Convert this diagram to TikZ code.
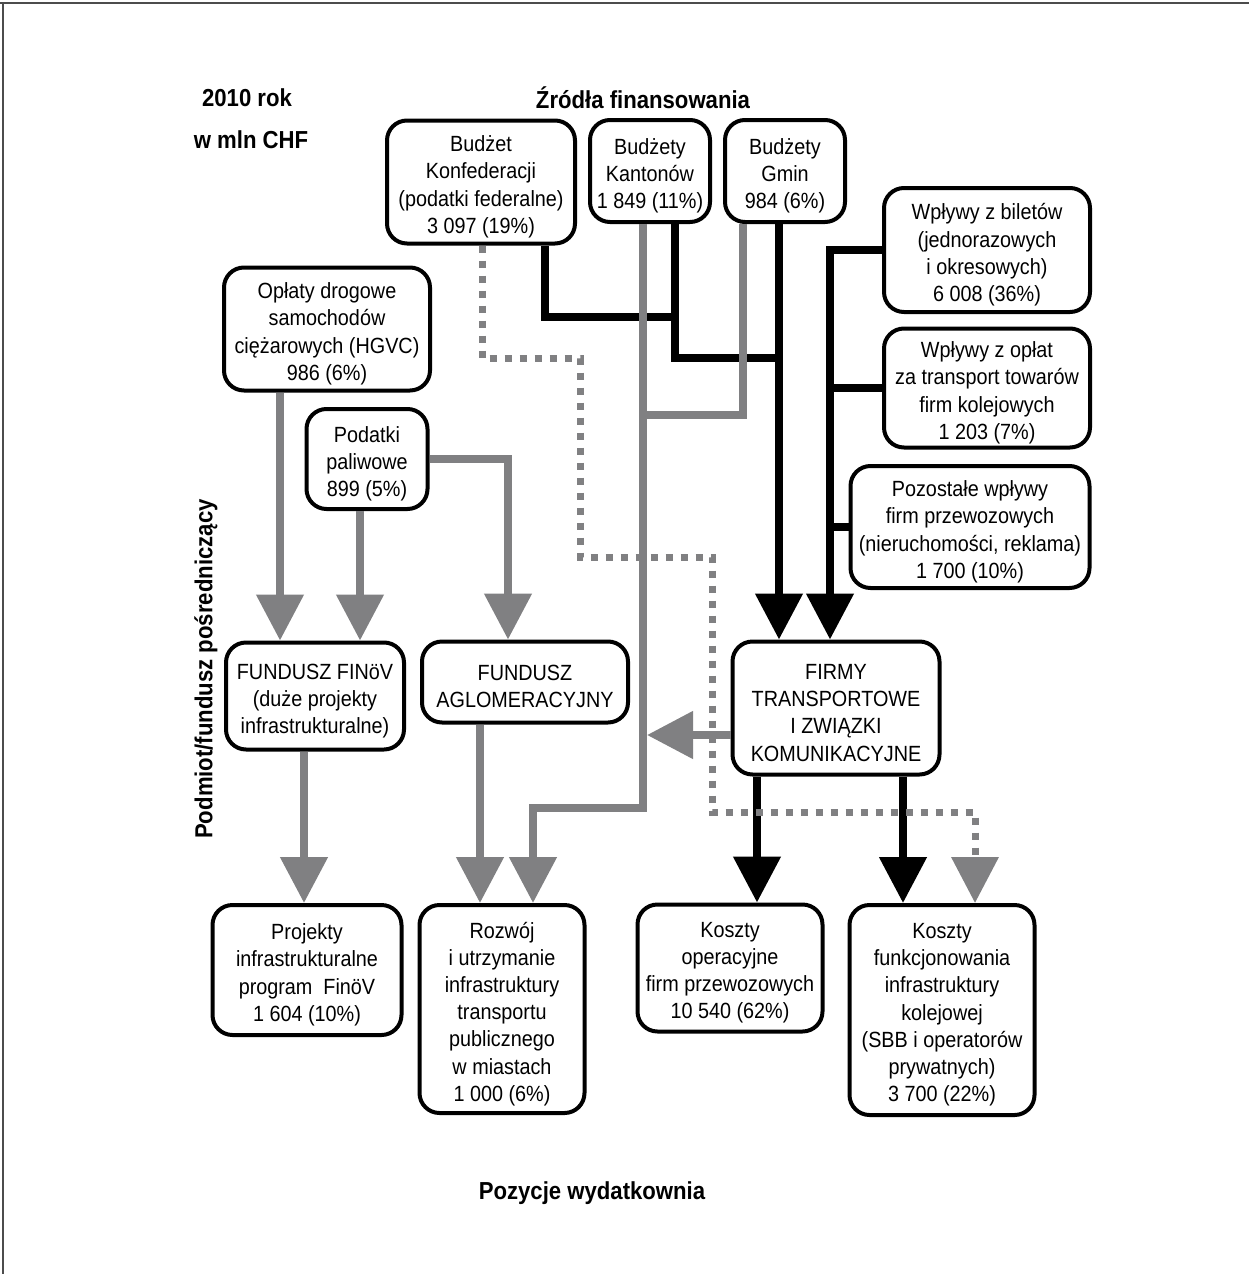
\documentclass[tikz,border=0pt]{standalone}
\usepackage{fontspec}
\setmainfont{Liberation Sans}[FakeStretch=0.9]
\usetikzlibrary{arrows.meta}
\definecolor{lgray}{RGB}{128,128,130}
\newcommand{\boxfont}{\fontsize{11}{13.6}\selectfont}
\newcommand{\headfont}{\fontsize{12.3}{14}\selectfont\bfseries}
\tikzset{
  box/.style={draw, line width=2pt, rounded corners=10pt, inner sep=0pt, fill=white},
  txt/.style={align=center, inner sep=0pt, font=\boxfont, yshift=-2.4pt},
  blk/.style={line width=4pt, black},
  gry/.style={line width=4pt, lgray},
  dotline/.style={line width=3.5pt, lgray, dash pattern=on 3.5pt off 4pt},
  tip/.style={-{Triangle[width=23pt,length=23pt]}},
  head/.style={font=\headfont, inner sep=0pt}
}
\begin{document}
\begin{tikzpicture}[x=0.5pt,y=-0.5pt]
\useasboundingbox (0,0) rectangle (1249,1274);
\draw[line width=0.8pt, black!70] (0,3) -- (1249,3);
\draw[line width=0.8pt, black!70] (3,3) -- (3,1274);

% headings
\node[head] (rok) at (247,98) {2010 rok};
\node[head] (mln) at (251,140) {w mln CHF};
\node[head] (zrodla) at (643,98) {Źródła finansowania};
\node[head, rotate=90] (podmiot) at (206,669) {Podmiot/fundusz pośredniczący};
\node[head] (pozycje) at (592,1193) {Pozycje wydatkownia};

% helper coordinates
\coordinate (xA) at (545,0);
\coordinate (xC) at (675,0);
\coordinate (xD) at (779,0);
\coordinate (xE) at (830,0);
\coordinate (xF) at (757,0);
\coordinate (xG) at (903,0);
\coordinate (xH) at (643,0);
\coordinate (xI) at (533,0);
\coordinate (xJ) at (743,0);
\coordinate (xK) at (280,0);
\coordinate (xL) at (360,0);
\coordinate (xN) at (508,0);
\coordinate (xO) at (304,0);
\coordinate (xP) at (480,0);
\coordinate (xQ) at (482,0);
\coordinate (xR) at (975,0);
\coordinate (j1) at (675,317);
\coordinate (j2) at (779,358);
\coordinate (j3) at (533,808);
\coordinate (j4) at (643,415);
\coordinate (jt) at (647,735);
\coordinate (d1) at (580,358);
\coordinate (d2) at (712,557);
\coordinate (d3) at (975,812);

% boxes
\node[box, minimum width=94pt, minimum height=61.5pt, label={[txt, name=konf-t]center:{Budżet\\Konfederacji\\(podatki federalne)\\3 097 (19\%)}}] (konf) at (481,182) {};
\node[box, minimum width=60pt, minimum height=51pt, label={[txt, name=kant-t]center:{Budżety\\Kantonów\\1 849 (11\%)}}] (kant) at (650,171) {};
\node[box, minimum width=60pt, minimum height=51pt, label={[txt, name=gmin-t]center:{Budżety\\Gmin\\984 (6\%)}}] (gmin) at (785,171) {};
\node[box, minimum width=103pt, minimum height=62pt, label={[txt, name=bilety-t]center:{Wpływy z biletów\\(jednorazowych\\i okresowych)\\6 008 (36\%)}}] (bilety) at (987,250) {};
\node[box, minimum width=103pt, minimum height=59.5pt, label={[txt, name=towar-t]center:{Wpływy z opłat\\za transport towarów\\firm kolejowych\\1 203 (7\%)}}] (towar) at (987,388) {};
\node[box, minimum width=119.5pt, minimum height=61pt, label={[txt, name=pozost-t]center:{Pozostałe wpływy\\firm przewozowych\\(nieruchomości, reklama)\\1 700 (10\%)}}] (pozost) at (970,527) {};
\node[box, minimum width=103pt, minimum height=61.5pt, label={[txt, name=drog-t]center:{Opłaty drogowe\\samochodów\\ciężarowych (HGVC)\\986 (6\%)}}] (drog) at (327,329) {};
\node[box, minimum width=60.5pt, minimum height=50pt, label={[txt, name=paliw-t]center:{Podatki\\paliwowe\\899 (5\%)}}] (paliw) at (367,459) {};
\node[box, minimum width=89pt, minimum height=53.5pt, label={[txt, name=finov-t]center:{FUNDUSZ FINöV\\(duże projekty\\infrastrukturalne)}}] (finov) at (315,696) {};
\node[box, minimum width=103pt, minimum height=40.5pt, label={[txt, name=aglo-t]center:{FUNDUSZ\\AGLOMERACYJNY}}] (aglo) at (525,682) {};
\node[box, minimum width=103.5pt, minimum height=66.5pt, label={[txt, name=firmy-t]center:{FIRMY\\TRANSPORTOWE\\I ZWIĄZKI\\KOMUNIKACYJNE}}] (firmy) at (836,708) {};
\node[box, minimum width=94.5pt, minimum height=65pt, label={[txt, name=proj-t]center:{Projekty\\infrastrukturalne\\program~~FinöV\\1 604 (10\%)}}] (proj) at (307,970) {};
\node[box, minimum width=82.5pt, minimum height=104pt, label={[txt, name=rozwoj-t]center:{Rozwój\\i utrzymanie\\infrastruktury\\transportu\\publicznego\\w miastach\\1 000 (6\%)}}] (rozwoj) at (502,1009) {};
\node[box, minimum width=92.5pt, minimum height=63.5pt, label={[txt, name=kop-t]center:{Koszty\\operacyjne\\firm przewozowych\\10 540 (62\%)}}] (kop) at (730,968) {};
\node[box, minimum width=92.5pt, minimum height=105pt, label={[txt, name=kf-t]center:{Koszty\\funkcjonowania\\infrastruktury\\kolejowej\\(SBB i operatorów\\prywatnych)\\3 700 (22\%)}}] (kf) at (942,1010) {};

% black connectors
\draw[blk] (konf.south -| xA) |- (j1);
\draw[blk] (kant.south -| xC) |- (j2);
\draw[blk, tip] (gmin.south -| xD) -- (firmy.north -| xD);
\draw[blk, tip] (bilety.west) -| (firmy.north -| xE);
\draw[blk] (towar.west) -- (towar.west -| xE);
\draw[blk] (pozost.west) -- (pozost.west -| xE);
\draw[blk, tip] (firmy.south -| xF) -- (kop.north -| xF);
\draw[blk, tip] (firmy.south -| xG) -- (kf.north -| xG);

% gray connectors
\draw[gry, tip] (kant.south -| xH) |- (j3) -- (rozwoj.north -| xI);
\draw[gry] (gmin.south -| xJ) |- (j4);
\draw[gry, tip] (firmy.west |- jt) -- (jt);
\draw[gry, tip] (drog.south -| xK) -- (finov.north -| xK);
\draw[gry, tip] (paliw.south -| xL) -- (finov.north -| xL);
\draw[gry, tip] (paliw.east) -| (aglo.north -| xN);
\draw[gry, tip] (finov.south -| xO) -- (proj.north -| xO);
\draw[gry, tip] (aglo.south -| xP) -- (rozwoj.north -| xP);

% dotted connector
\draw[dotline, tip] (konf.south -| xQ) |- (d1) |- (d2) |- (d3) -- (kf.north -| xR);
\end{tikzpicture}
\end{document}
